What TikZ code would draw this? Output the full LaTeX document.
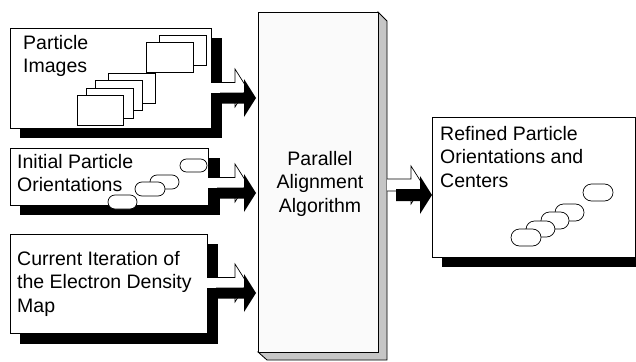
\documentclass[tikz,border=0pt]{standalone}
\usepackage{fontspec}
\setmainfont{Liberation Sans}
\newcommand\blockarrow[5]{% tail x, centre y, head base x, tip x, shaft half width
  \draw[whitearrow] (#1,#2-#5) -- (#3,#2-#5) -- (#3,#2-19) -- (#4,#2) -- (#3,#2+19) -- (#3,#2+#5) -- (#1,#2+#5);
  \fill[blackarrow] (#1+9,#2+10-#5) -- (#3+9,#2+10-#5) -- (#3+9,#2+10-19) -- (#4+9,#2+10) -- (#3+9,#2+10+19) -- (#3+9,#2+10+#5) -- (#1+9,#2+10+#5) -- cycle;
}
\begin{document}
\begin{tikzpicture}[x=1pt,y=-1pt,
  box/.style={draw=black, line width=0.8pt, fill=white, anchor=north west, inner sep=0pt, outer sep=0pt},
  shadowbox/.style={fill=black},
  card/.style={draw=black, line width=0.7pt, fill=white},
  pill/.style={draw=black, line width=0.7pt, fill=white, rounded corners=#1},
  lbl/.style={anchor=base west, inner sep=0pt, font=\fontsize{19.5}{23.5}\selectfont},
  whitearrow/.style={draw=black, line width=0.7pt, fill=white},
  blackarrow/.style={fill=black}]
\useasboundingbox (0,0) rectangle (636,361);
\clip (0,0) rectangle (636,361);

% ---- input box 1: Particle Images
\fill[shadowbox] (20,38) rectangle (222,138);
\node[box, minimum width=201pt, minimum height=100pt] (b1) at (10,28) {};
\draw[card] (159,35) rectangle (206,65);
\draw[card] (146,42) rectangle (193,72);
\draw[card] (108,73) rectangle (155,103);
\draw[card] (95,80) rectangle (142,110);
\draw[card] (86,88) rectangle (133,118);
\draw[card] (77,95) rectangle (123,125);
\node[lbl] (t1) at (23,49) {\begin{tabular}[t]{@{}l@{}}Particle\\Images\end{tabular}};

% ---- input box 2: Initial Particle Orientations
\fill[shadowbox] (20,158) rectangle (220,215);
\node[box, minimum width=198pt, minimum height=57pt] (b2) at (10,148) {};
\draw[pill=6.5pt] (180,159) rectangle (207,172);
\draw[pill=7pt] (150,175) rectangle (179,189);
\draw[pill=7pt] (135,182) rectangle (165,196);
\draw[pill=7pt] (108,195) rectangle (137,209);
\node[lbl] (t2) at (17,168) {\begin{tabular}[t]{@{}l@{}}Initial Particle\\Orientations\end{tabular}};

% ---- input box 3: Current Iteration
\fill[shadowbox] (20,244) rectangle (218,344);
\node[box, minimum width=197pt, minimum height=99pt] (b3) at (10,234) {};
\node[lbl] (t3) at (17,265) {\begin{tabular}[t]{@{}l@{}}Current Iteration of\\the Electron Density\\Map\end{tabular}};

% ---- output box
\fill[shadowbox] (442,127) rectangle (646,267);
\node[box, minimum width=203pt, minimum height=140pt] (b4) at (432,117) {};
\draw[pill=8.5pt] (583,184) rectangle (613,201);
\draw[pill=8.5pt] (555,204) rectangle (584,221);
\draw[pill=8.5pt] (541,212) rectangle (569,229);
\draw[pill=8.5pt] (526,221) rectangle (555,237);
\draw[pill=8.5pt] (511,229) rectangle (541,246);
\node[lbl] (t4) at (440,140) {\begin{tabular}[t]{@{}l@{}}Refined Particle\\Orientations and\\Centers\end{tabular}};

% ---- central 3D block
\filldraw[fill=gray!45, draw=black, line width=0.8pt] (378,12) -- (387,21) -- (387,360) -- (267,360) -- (258,352) -- (378,352) -- cycle;
\node[box, fill=gray!4, minimum width=120pt, minimum height=340pt] (algo) at (258,12) {};
\node[lbl, anchor=base] (talgo) at (320,165) {\begin{tabular}[t]{@{}c@{}}Parallel\\Alignment\\Algorithm\end{tabular}};

% ---- block arrows
\blockarrow{211}{88}{235}{247}{5.5}
\blockarrow{208}{183}{235}{247}{5.5}
\blockarrow{207}{283}{235}{247}{5.5}
\blockarrow{387}{185}{411}{423}{6}
\end{tikzpicture}
\end{document}
